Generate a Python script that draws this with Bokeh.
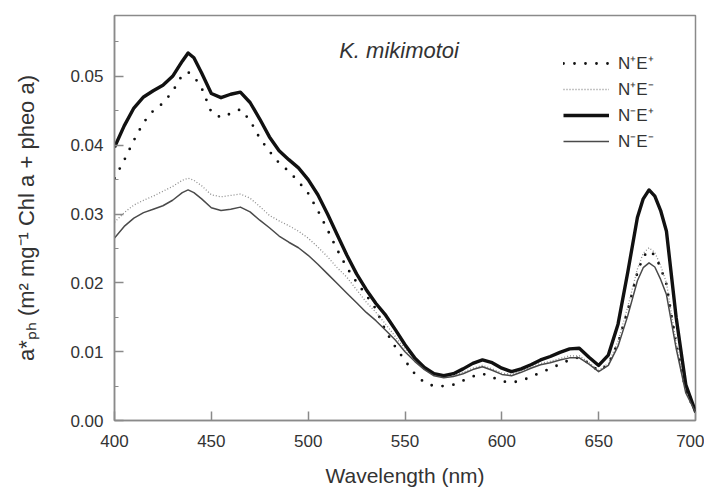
from bokeh.plotting import figure
from bokeh.models import ColumnDataSource, Legend, LegendItem, Label, FixedTicker, NumeralTickFormatter
from bokeh.embed import file_html
from bokeh.resources import INLINE

# ---- data ----
wavelength = [400, 405, 410, 415, 420, 425, 430, 435,
              438, 441,
              445, 450, 455, 460, 465, 470, 475, 480, 485, 490, 495,
              500, 505, 510, 515, 520, 525, 530, 535, 540, 545, 550,
              555, 560, 565, 570, 575, 580, 585, 590, 595, 600, 605,
              610, 615, 620, 625, 630, 635, 640, 645, 650, 655, 660, 665, 670,
              673, 676, 679, 682,
              685, 690, 695, 700]

np_ep = [0.0352, 0.0378, 0.0407, 0.0433, 0.0450, 0.0461, 0.0478, 0.0502,
         0.0506, 0.0500,
         0.0483, 0.0448, 0.0440, 0.0446, 0.0452, 0.0436, 0.0410, 0.0391, 0.0374, 0.0362, 0.0347,
         0.0330, 0.0305, 0.0277, 0.0248, 0.0222, 0.0201, 0.0182, 0.0162, 0.0130, 0.0107, 0.0087,
         0.0068, 0.0055, 0.0050, 0.0050, 0.0052, 0.0058, 0.0064, 0.0068, 0.0063, 0.0057, 0.0055,
         0.0058, 0.0063, 0.0070, 0.0075, 0.0082, 0.0088, 0.0092, 0.0083, 0.0072, 0.0082, 0.0113, 0.0160, 0.0215,
         0.0238, 0.0247, 0.0240, 0.0222,
         0.0198, 0.0112, 0.0043, 0.0012]

np_em = [0.0288, 0.0302, 0.0313, 0.0320, 0.0326, 0.0333, 0.0340, 0.0349,
         0.0352, 0.0349,
         0.0341, 0.0328, 0.0325, 0.0327, 0.0329, 0.0323, 0.0311, 0.0298, 0.0290, 0.0283, 0.0275,
         0.0265, 0.0252, 0.0238, 0.0222, 0.0208, 0.0190, 0.0172, 0.0157, 0.0140, 0.0122, 0.0104,
         0.0089, 0.0076, 0.0067, 0.0064, 0.0066, 0.0070, 0.0076, 0.0080, 0.0075, 0.0069, 0.0067,
         0.0072, 0.0078, 0.0083, 0.0086, 0.0090, 0.0094, 0.0094, 0.0084, 0.0073, 0.0083, 0.0115, 0.0165, 0.0220,
         0.0243, 0.0251, 0.0244, 0.0225,
         0.0200, 0.0113, 0.0043, 0.0012]

nm_ep = [0.0397, 0.0428, 0.0454, 0.0470, 0.0479, 0.0487, 0.0500, 0.0522,
         0.0534, 0.0527,
         0.0505, 0.0475, 0.0469, 0.0474, 0.0477, 0.0462, 0.0438, 0.0412, 0.0392, 0.0379, 0.0367,
         0.0350, 0.0328, 0.0300, 0.0270, 0.0240, 0.0213, 0.0190, 0.0170, 0.0153, 0.0132, 0.0110,
         0.0091, 0.0077, 0.0068, 0.0065, 0.0068, 0.0075, 0.0083, 0.0088, 0.0084, 0.0076, 0.0071,
         0.0075, 0.0081, 0.0088, 0.0093, 0.0099, 0.0104, 0.0105, 0.0092, 0.0080, 0.0095, 0.0140, 0.0215, 0.0295,
         0.0322, 0.0335, 0.0326, 0.0305,
         0.0275, 0.0150, 0.0052, 0.0013]

nm_em = [0.0265, 0.0282, 0.0294, 0.0302, 0.0307, 0.0312, 0.0320, 0.0331,
         0.0335, 0.0331,
         0.0322, 0.0309, 0.0305, 0.0307, 0.0310, 0.0303, 0.0291, 0.0280, 0.0268, 0.0259, 0.0251,
         0.0240, 0.0227, 0.0213, 0.0199, 0.0185, 0.0171, 0.0157, 0.0145, 0.0131, 0.0117, 0.0100,
         0.0086, 0.0074, 0.0065, 0.0062, 0.0064, 0.0068, 0.0074, 0.0078, 0.0073, 0.0067, 0.0065,
         0.0070, 0.0076, 0.0081, 0.0084, 0.0088, 0.0091, 0.0091, 0.0082, 0.0071, 0.0080, 0.0108, 0.0152, 0.0203,
         0.0222, 0.0229, 0.0223, 0.0205,
         0.0183, 0.0105, 0.0040, 0.0012]

series_labels = ["N\u207aE\u207a", "N\u207aE\u207b", "N\u207bE\u207a", "N\u207bE\u207b"]
x_ticks = [400, 450, 500, 550, 600, 650, 700]
y_ticks = [0.00, 0.01, 0.02, 0.03, 0.04, 0.05]
y_minor = [0.005, 0.015, 0.025, 0.035, 0.045, 0.055]
title_text = "K. mikimotoi"
x_title = "Wavelength (nm)"
y_title = "a*\u209a\u2095 (m\u00b2 mg\u207b\u00b9 Chl a + pheo a)"

FONT = "Liberation Sans"
AXIS_GRAY = "#8a8a8a"
TEXT_COL = "#333333"

src = ColumnDataSource(dict(x=wavelength, npep=np_ep, npem=np_em, nmep=nm_ep, nmem=nm_em))

p = figure(width=704, height=489, output_backend="svg", toolbar_location=None,
           x_range=(400, 700), y_range=(0, 0.05884),
           min_border_left=114, min_border_right=9, min_border_top=15, min_border_bottom=68)
p.background_fill_color = "white"
p.border_fill_color = "white"
p.outline_line_color = AXIS_GRAY
p.outline_line_width = 1.5
p.xgrid.visible = False
p.ygrid.visible = False

r1 = p.line("x", "npep", source=src, line_color="#111111", line_width=2.8,
            line_dash="0 11", line_cap="round")
r2 = p.line("x", "npem", source=src, line_color="#8c8c8c", line_width=1.3,
            line_dash="1 2")
r3 = p.line("x", "nmep", source=src, line_color="#111111", line_width=3.4,
            line_join="round")
r4 = p.line("x", "nmem", source=src, line_color="#4a4a4a", line_width=1.5,
            line_join="round")

# axes
for ax in (p.xaxis[0], p.yaxis[0]):
    ax.axis_line_color = AXIS_GRAY
    ax.axis_line_width = 1.5
    ax.major_tick_line_color = AXIS_GRAY
    ax.major_tick_line_width = 1.5
    ax.major_tick_in = 9
    ax.major_tick_out = 0
    ax.minor_tick_line_color = None
    ax.major_label_text_font = FONT
    ax.major_label_text_font_size = "17px"
    ax.major_label_text_color = TEXT_COL
    ax.axis_label_text_font = FONT
    ax.axis_label_text_font_style = "normal"
    ax.axis_label_text_color = TEXT_COL

p.xaxis.ticker = FixedTicker(ticks=x_ticks)
p.yaxis.ticker = FixedTicker(ticks=y_ticks, minor_ticks=y_minor)
p.yaxis.minor_tick_line_color = AXIS_GRAY
p.yaxis.minor_tick_line_width = 1.2
p.yaxis.minor_tick_in = 4
p.yaxis.minor_tick_out = 0
p.yaxis.formatter = NumeralTickFormatter(format="0.00")

p.xaxis.axis_label = x_title
p.xaxis.axis_label_text_font_size = "21px"
p.xaxis.major_label_standoff = 14
p.xaxis.axis_label_standoff = 14

p.yaxis.axis_label = y_title
p.yaxis.axis_label_text_font_size = "22px"
p.yaxis.major_label_standoff = 11
p.yaxis.axis_label_standoff = 28

# title inside plot
p.add_layout(Label(x=516, y=0.0537, text=title_text, text_font=FONT,
                   text_font_size="22px", text_font_style="italic",
                   text_color=TEXT_COL, text_baseline="middle", text_align="left"))

legend = Legend(items=[LegendItem(label=series_labels[0], renderers=[r1]),
                       LegendItem(label=series_labels[1], renderers=[r2]),
                       LegendItem(label=series_labels[2], renderers=[r3]),
                       LegendItem(label=series_labels[3], renderers=[r4])],
                location=(449, 268), border_line_color=None, background_fill_alpha=0,
                padding=0, margin=0, spacing=3, glyph_width=46, glyph_height=20,
                label_standoff=9, label_text_font=FONT, label_text_font_size="17px",
                label_text_color=TEXT_COL, label_height=20)
p.add_layout(legend, "center")

open("out.html", "w").write(file_html(p, INLINE))
